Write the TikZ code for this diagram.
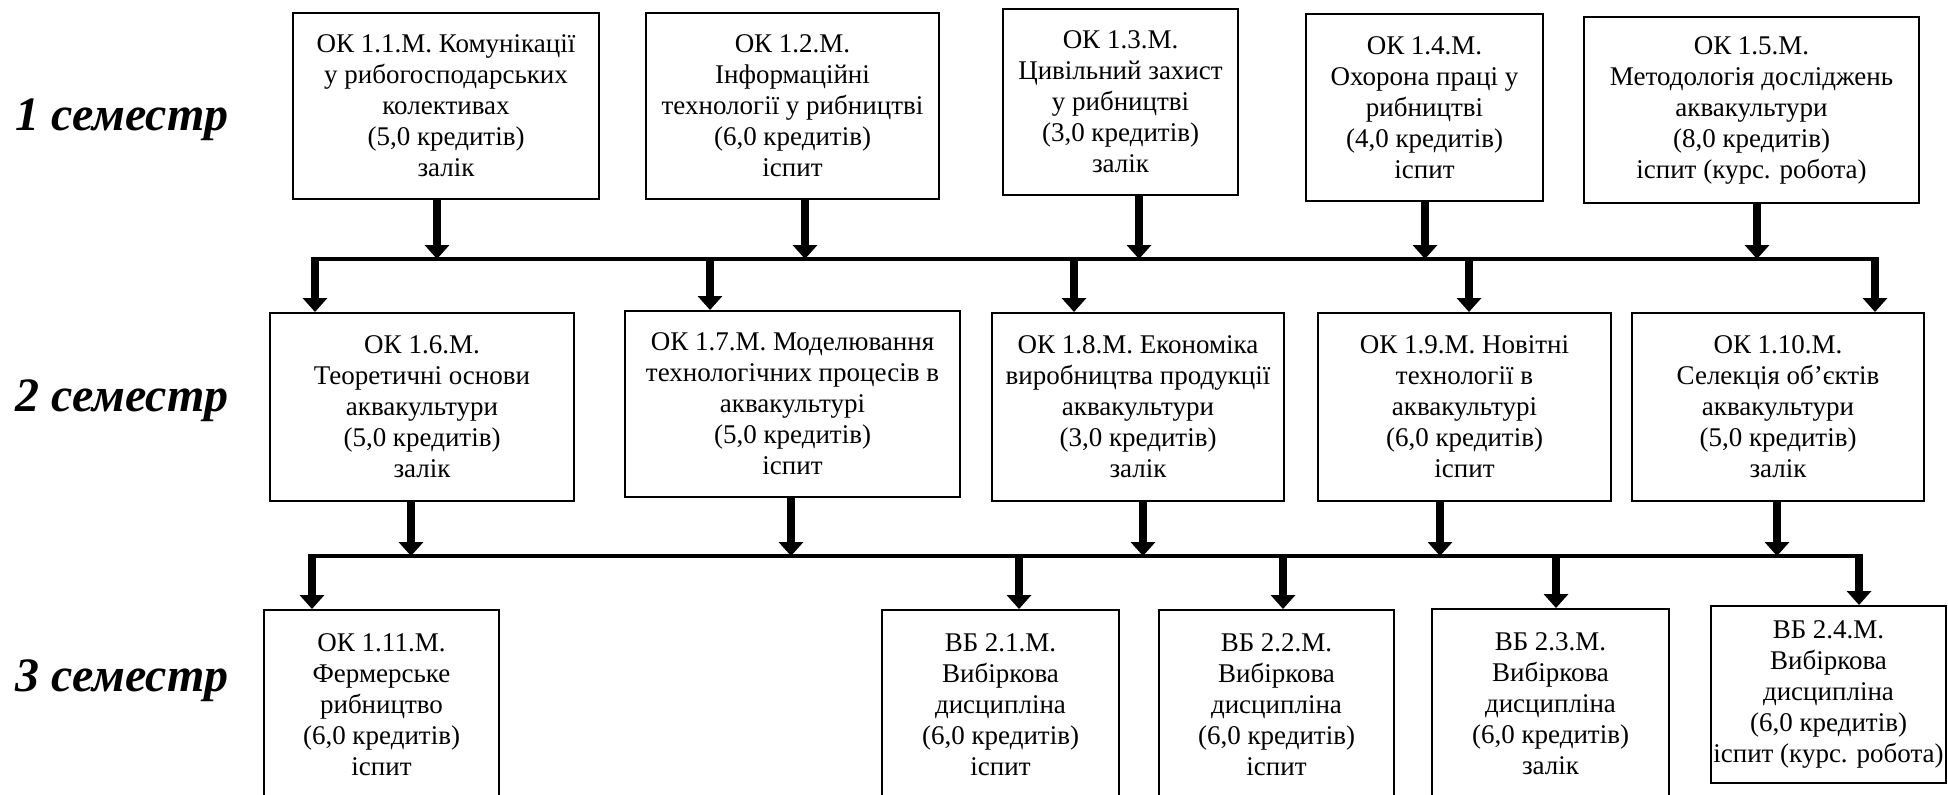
\documentclass[tikz,border=0pt]{standalone}
\usepackage{fontspec}
\setmainfont{Liberation Serif}
\usetikzlibrary{arrows.meta}

\tikzset{
  box/.style={draw, line width=1pt, align=center, inner sep=0pt,
    font=\fontsize{13.5}{15.5}\selectfont},
  sem/.style={anchor=base west, inner sep=0pt,
    font=\fontsize{24}{28}\selectfont\bfseries\itshape},
  arr/.style={line width=4pt, -{Triangle[length=7pt,width=12pt]}},
  bus/.style={line width=2.2pt, shorten <=-2pt, shorten >=-2pt},
}

\begin{document}
\begin{tikzpicture}[x=0.5pt, y=-0.5pt]
    \useasboundingbox (0,0) rectangle (1948,794);

    \node[sem] (s1) at (15,130) {1 семестр};
    \node[sem] (s2) at (15,411) {2 семестр};
    \node[sem] (s3) at (15,691) {3 семестр};

    % 1 semester
    \node[box, minimum width=153pt, minimum height=93pt] (b11) at (446,106)
      {ОК 1.1.М. Комунікації\\у рибогосподарських\\колективах\\(5,0 кредитів)\\залік};
    \node[box, minimum width=146.5pt, minimum height=93pt] (b12) at (792.5,106)
      {ОК 1.2.М.\\Інформаційні\\технології у рибництві\\(6,0 кредитів)\\іспит};
    \node[box, minimum width=117.5pt, minimum height=93pt] (b13) at (1120.5,102)
      {ОК 1.3.М.\\Цивільний захист\\у рибництві\\(3,0 кредитів)\\залік};
    \node[box, minimum width=118.5pt, minimum height=93.5pt] (b14) at (1424.5,107.5)
      {ОК 1.4.М.\\Охорона праці у\\рибництві\\(4,0 кредитів)\\іспит};
    \node[box, minimum width=167.5pt, minimum height=93pt] (b15) at (1751.5,110)
      {ОК 1.5.М.\\Методологія досліджень\\аквакультури\\(8,0 кредитів)\\іспит (курс. робота)};

    % 2 semester
    \node[box, minimum width=152pt, minimum height=94pt] (b16) at (422,407)
      {ОК 1.6.М.\\Теоретичні основи\\аквакультури\\(5,0 кредитів)\\залік};
    \node[box, minimum width=167.5pt, minimum height=93pt] (b17) at (792.5,404)
      {ОК 1.7.М. Моделювання\\технологічних процесів в\\аквакультурі\\(5,0 кредитів)\\іспит};
    \node[box, minimum width=146pt, minimum height=94pt] (b18) at (1138,407)
      {ОК 1.8.М. Економіка\\виробництва продукції\\аквакультури\\(3,0 кредитів)\\залік};
    \node[box, minimum width=146.5pt, minimum height=94pt] (b19) at (1464.5,407)
      {ОК 1.9.М. Новітні\\технології в\\аквакультурі\\(6,0 кредитів)\\іспит};
    \node[box, minimum width=146pt, minimum height=94pt] (b110) at (1778,407)
      {ОК 1.10.М.\\Селекція об’єктів\\аквакультури\\(5,0 кредитів)\\залік};

    % 3 semester
    \node[box, minimum width=117.5pt, minimum height=95pt] (b111) at (381.5,705)
      {ОК 1.11.М.\\Фермерське\\рибництво\\(6,0 кредитів)\\іспит};
    \node[box, minimum width=118.5pt, minimum height=95pt] (b21) at (1000.5,705)
      {ВБ 2.1.М.\\Вибіркова\\дисципліна\\(6,0 кредитів)\\іспит};
    \node[box, minimum width=117.5pt, minimum height=95pt] (b22) at (1276.5,705)
      {ВБ 2.2.М.\\Вибіркова\\дисципліна\\(6,0 кредитів)\\іспит};
    \node[box, minimum width=118.5pt, minimum height=95pt] (b23) at (1550.5,704)
      {ВБ 2.3.М.\\Вибіркова\\дисципліна\\(6,0 кредитів)\\залік};
    \node[box, minimum width=117.5pt, minimum height=88.5pt] (b24) at (1828.5,694.5)
      {ВБ 2.4.М.\\Вибіркова\\дисципліна\\(6,0 кредитів)\\іспит (курс. робота)};

    % first bus
    \foreach \b/\x in {b11/437,b12/805,b13/1139,b14/1425,b15/1757} {
      \coordinate (f\b) at (\x,259);
      \draw[arr] (f\b |- \b.south) -- (f\b);
    }
    \foreach \x/\b in {315/b16,710/b17,1074/b18,1469/b19,1875/b110} {
      \coordinate (t\b) at (\x,259);
      \draw[arr] (t\b) -- (t\b |- \b.north);
    }
    \draw[bus] (tb16) -- (tb110);

    % second bus
    \foreach \b/\x in {b16/411,b17/791,b18/1143,b19/1440,b110/1777} {
      \coordinate (f\b) at (\x,556);
      \draw[arr] (f\b |- \b.south) -- (f\b);
    }
    \foreach \x/\b in {312/b111,1019/b21,1283/b22,1556/b23,1859/b24} {
      \coordinate (t\b) at (\x,556);
      \draw[arr] (t\b) -- (t\b |- \b.north);
    }
    \draw[bus] (tb111) -- (tb24);
\end{tikzpicture}
\end{document}
